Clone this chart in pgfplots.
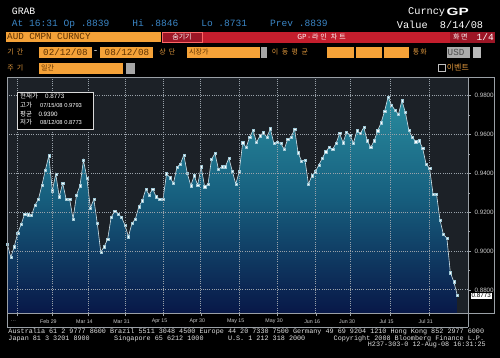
\documentclass[border=0pt]{standalone}
\usepackage{pgfplots}
\pgfplotsset{compat=1.18}
\usepackage{pgfplotstable}
\usepgfplotslibrary{fillbetween}
\usepackage{fontspec}
\usepackage{graphicx}
\setmainfont{Liberation Sans}
\newfontfamily\mono{Liberation Mono}
\newfontfamily\kr{Noto Sans CJK KR}
\newcommand\fs[1]{\fontsize{#1}{#1}\selectfont}

\definecolor{bbOrange}{HTML}{F5A238}
\definecolor{bbOrText}{HTML}{E39A3E}
\definecolor{bbBoxText}{HTML}{5C3000}
\definecolor{bbRed}{HTML}{C41E2D}
\definecolor{bbRedDark}{HTML}{9C1626}
\definecolor{bbBlue}{HTML}{3B86C6}
\definecolor{bbFrame}{HTML}{9AA0A6}
\definecolor{fillTop}{HTML}{2D95A5}
\definecolor{fillMid}{HTML}{17607F}
\definecolor{fillBot}{HTML}{081848}
\definecolor{bgDark}{HTML}{1C2127}
\definecolor{gridC}{HTML}{9AA2AA}
\definecolor{lineC}{HTML}{D2E6EE}
\definecolor{markC}{HTML}{9FC8D6}

\pgfplotstableread{
i v
0 0.9037
1 0.8968
2 0.9023
3 0.9092
4 0.9138
5 0.9191
6 0.9187
7 0.9184
8 0.9237
9 0.9267
10 0.9340
11 0.9418
12 0.9491
13 0.9311
14 0.9397
15 0.9280
16 0.9349
17 0.9267
18 0.9268
19 0.9165
20 0.9289
21 0.9337
22 0.9469
23 0.9375
24 0.9222
25 0.9267
26 0.9143
27 0.8995
28 0.9023
29 0.9062
30 0.9174
31 0.9205
32 0.9191
33 0.9174
34 0.9133
35 0.9074
36 0.9143
37 0.9165
38 0.9229
39 0.9259
40 0.9318
41 0.9289
42 0.9320
43 0.9280
44 0.9268
45 0.9268
46 0.9398
47 0.9378
48 0.9349
49 0.9431
50 0.9448
51 0.9495
52 0.9400
53 0.9337
54 0.9388
55 0.9340
56 0.9434
57 0.9332
58 0.9345
59 0.9473
60 0.9503
61 0.9421
62 0.9434
63 0.9434
64 0.9479
65 0.9412
66 0.9345
67 0.9409
68 0.9558
69 0.9534
70 0.9586
71 0.9623
72 0.9560
73 0.9594
74 0.9610
75 0.9586
76 0.9630
77 0.9555
78 0.9560
79 0.9555
80 0.9524
81 0.9576
82 0.9586
83 0.9629
84 0.9507
85 0.9464
86 0.9469
87 0.9344
88 0.9388
89 0.9409
90 0.9443
91 0.9478
92 0.9512
93 0.9534
94 0.9524
95 0.9555
96 0.9606
97 0.9558
98 0.9612
99 0.9598
100 0.9555
101 0.9620
102 0.9606
103 0.9637
104 0.9568
105 0.9534
106 0.9568
107 0.9620
108 0.9661
109 0.9721
110 0.9793
111 0.9752
112 0.9726
113 0.9704
114 0.9774
115 0.9715
116 0.9623
117 0.9586
118 0.9563
119 0.9568
120 0.9529
121 0.9447
122 0.9426
123 0.9294
124 0.9294
125 0.9160
126 0.9086
127 0.9066
128 0.8889
129 0.8842
130 0.8773
}\audtable

\begin{document}
\begin{tikzpicture}
\fill[black, even odd rule] (0,0) rectangle (500bp,-358bp) (7bp,-77bp) rectangle (468bp,-313bp);

\begin{axis}[
  set layers, axis on top,
  at={(7bp,-313bp)}, anchor=south west,
  scale only axis, width=461bp, height=236bp,
  xmin=-0.09, xmax=133.1, ymin=0.8681, ymax=0.9896,
  axis line style={draw=bbFrame, line width=0.5bp},
  xtick={2.8,12.9,23.3,34,45,55.9,67,78.1,89.1,99.2,110.6,121.9},
  xticklabels={{\ldots},{Feb 29},{Mar 14},{Mar 31},{Apr 15},{Apr 30},{May 15},{May 30},{Jun 16},{Jun 30},{Jul 15},{Jul 31}},
  xticklabel style={font=\fs{5.3}, text=white!80!black, anchor=center, yshift=-5.5bp, xshift=-3.5bp},
  ytick={0.88,0.90,0.92,0.94,0.96,0.98},
  yticklabel pos=right, ytick pos=right, xtick pos=bottom,
  yticklabel style={font=\fs{6.3}, text=white!80!black, /pgf/number format/.cd, fixed, fixed zerofill, precision=4, assume math mode=true},
  tick align=outside, major tick length=3bp, minor y tick num=1, minor tick length=1.5bp,
  tick style={draw=bbFrame, line width=0.4bp},
  grid=major, major grid style={draw=gridC, dash pattern=on 1bp off 1.2bp, line width=0.8bp},
]
\begin{pgfonlayer}{axis background}
\shade[top color=fillTop, bottom color=fillBot, middle color=fillMid] (rel axis cs:0,0) rectangle (rel axis cs:1,1);
\end{pgfonlayer}
\addplot[draw=none, name path=curve, forget plot] table[x=i,y=v]{\audtable};
\addplot[draw=none, name path=upper, forget plot] coordinates {(0,0.9896) (130,0.9896)};
\addplot[fill=bgDark, draw=none, forget plot] fill between[of=curve and upper];
\fill[bgDark] (axis cs:130,0.8681) rectangle (axis cs:133.2,0.9896);
\fill[bgDark] (axis cs:-0.2,0.8681) rectangle (axis cs:0,0.9896);
\addplot[color=lineC, line width=0.6bp, mark=square*, mark size=1.1bp, mark options={fill=white, draw=markC, line width=0.3bp}] table[x=i,y=v]{\audtable};
\begin{pgfonlayer}{axis foreground}
\draw[draw=white!85!black, fill=black, line width=0.4bp] (rel axis cs:0.02234,0.93517) rectangle (rel axis cs:0.18590,0.77966);
\node[inner sep=0pt, anchor=west, text=white, font=\kr\fs{6.5}] at (rel axis cs:0.02820,0.91822) {현재가};
\node[inner sep=0pt, anchor=west, text=white, font=\fs{6.3}] at (rel axis cs:0.08243,0.91610) {0.8773};
\node[inner sep=0pt, anchor=west, text=white, font=\kr\fs{6.5}] at (rel axis cs:0.02820,0.87924) {고가};
\node[inner sep=0pt, anchor=west, text=white, font=\fs{5.8}] at (rel axis cs:0.07158,0.87797) {07/15/08 0.9793};
\node[inner sep=0pt, anchor=west, text=white, font=\kr\fs{6.5}] at (rel axis cs:0.02820,0.84407) {평균};
\node[inner sep=0pt, anchor=west, text=white, font=\fs{6.3}] at (rel axis cs:0.06790,0.84237) {0.9390};
\node[inner sep=0pt, anchor=west, text=white, font=\kr\fs{6.5}] at (rel axis cs:0.02820,0.80847) {저가};
\node[inner sep=0pt, anchor=west, text=white, font=\fs{5.8}] at (rel axis cs:0.07158,0.80720) {08/12/08 0.8773};
\end{pgfonlayer}
\end{axis}

\begin{scope}[x=1bp,y=-1bp, every node/.style={inner sep=0pt}]
% chart frame
\draw[bbFrame, line width=0.6bp] (7,77) -- (494,77) -- (494,313) -- (468,313);
\draw[bbFrame, line width=0.6bp] (468,77) -- (468,327);
\draw[bbFrame, line width=0.6bp] (7,77) -- (7,327) -- (468,327);
% last value box
\node[fill=white, text=black, font=\fs{6.3}, inner xsep=1bp, inner ysep=0.8bp, anchor=west] at (470.5,295.6) {0.8773};

% header row 1-2
\node[anchor=west, text=white, font=\mono\fs{9.8}] at (11.7,11.7) {GRAB};
\node[anchor=west, text=bbBlue, font=\mono\fs{9.6}] at (11.7,24.3) {At 16:31 Op .8839~~~~Hi .8846~~~~Lo .8731~~~~Prev .8839};
\node[anchor=west, text=white, font=\mono\fs{10.3}] at (408,12.3) {Curncy};
\node[anchor=west, text=white, font=\bfseries\fs{10.6}] at (446.5,12.3) {\scalebox{1.45}[1]{GP}};
\node[anchor=west, text=white, font=\mono\fs{10.3}] at (396.7,24.6) {Value~~8/14/08};

% row 3
\fill[bbOrange] (6,31.5) rectangle (160.7,42);
\node[anchor=west, text=bbBoxText, font=\mono\fs{9.3}] at (7,36.9) {AUD CMPN CURNCY};
\fill[bbRed] (162,31.5) rectangle (495,42.5);
\fill[bbRedDark, draw=red!60!white, line width=0.5bp] (162.6,31.8) rectangle (202,42);
\node[text=white, font=\kr\fs{7}] at (182,36.9) {숨기기};
\node[text=white, font=\kr\fs{7}] at (321.5,36.9) {GP - 라\hspace{2bp}인\hspace{4bp}차\hspace{2bp}트};
\fill[bbRedDark] (450,31.5) rectangle (495,42.5);
\node[anchor=west, text=white, font=\kr\fs{7}] at (453,37) {화\hspace{1.5bp}면};
\node[anchor=west, text=white, font=\mono\fs{9.5}] at (476.5,37) {1/4};

% row 4
\node[anchor=west, text=bbOrText, font=\kr\fs{7}] at (7.3,52) {기\hspace{3bp}간};
\fill[bbOrange] (39,46.5) rectangle (91.7,57.5);
\node[anchor=west, text=bbBoxText, font=\mono\fs{9.3}] at (43,52.2) {02/12/08};
\node[text=white, font=\mono\fs{9.3}] at (95.7,52) {-};
\fill[bbOrange] (100,46.5) rectangle (153.3,57.5);
\node[anchor=west, text=bbBoxText, font=\mono\fs{9.3}] at (104.5,52.2) {08/12/08};
\node[anchor=west, text=bbOrText, font=\kr\fs{7}] at (159.3,52) {상\hspace{3bp}단};
\fill[bbOrange] (187.3,46.5) rectangle (260,57.5);
\fill[gray!70] (261,46.5) rectangle (266.7,57.5);
\node[anchor=west, text=bbBoxText, font=\kr\fs{7}] at (189,52) {시장가};
\node[anchor=west, text=bbOrText, font=\kr\fs{7}] at (271.7,52) {이\hspace{3.5bp}동\hspace{3.5bp}평\hspace{3.5bp}균};
\fill[bbOrange] (327.3,46.5) rectangle (354,57.5);
\fill[bbOrange] (356,46.5) rectangle (381.7,57.5);
\fill[bbOrange] (384,46.5) rectangle (409.3,57.5);
\node[anchor=west, text=bbOrText, font=\kr\fs{7}] at (412.7,52) {통\hspace{1bp}화};
\fill[gray!65] (446.7,46.5) rectangle (470,57.5);
\fill[gray!55] (472.7,46.5) rectangle (480.7,57.5);
\node[anchor=west, text=black!70, font=\mono\fs{9.3}] at (447.5,52.2) {USD};

% row 5
\node[anchor=west, text=bbOrText, font=\kr\fs{7}] at (7.3,68) {주\hspace{3bp}기};
\fill[bbOrange] (39,62.5) rectangle (123.3,73.5);
\fill[gray!70] (126,62.5) rectangle (135,73.5);
\node[anchor=west, text=bbBoxText, font=\kr\fs{7}] at (41,68) {일간};
\draw[white!75!black, line width=0.5bp] (438.5,64.3) rectangle (445,71);
\node[anchor=west, text=bbOrText, font=\kr\fs{8}] at (446.7,67.7) {이벤트};

% footer
\node[anchor=west, text=white!88!black, font=\mono\fs{6.8}] at (8.3,331.7) {Australia 61 2 9777 8600 Brazil 5511 3048 4500 Europe 44 20 7330 7500 Germany 49 69 9204 1210 Hong Kong 852 2977 6000};
\node[anchor=west, text=white!88!black, font=\mono\fs{6.8}] at (8.3,338.3) {Japan 81 3 3201 8900~~~~~~Singapore 65 6212 1000~~~~~~U.S. 1 212 318 2000~~~~~~~Copyright 2008 Bloomberg Finance L.P.};
\node[anchor=east, text=white!88!black, font=\mono\fs{6.8}] at (486,344.5) {H237-303-0 12-Aug-08 16:31:25};
\end{scope}
\pgfresetboundingbox
\useasboundingbox (0,0) rectangle (500bp,-358bp);
\end{tikzpicture}
\end{document}
